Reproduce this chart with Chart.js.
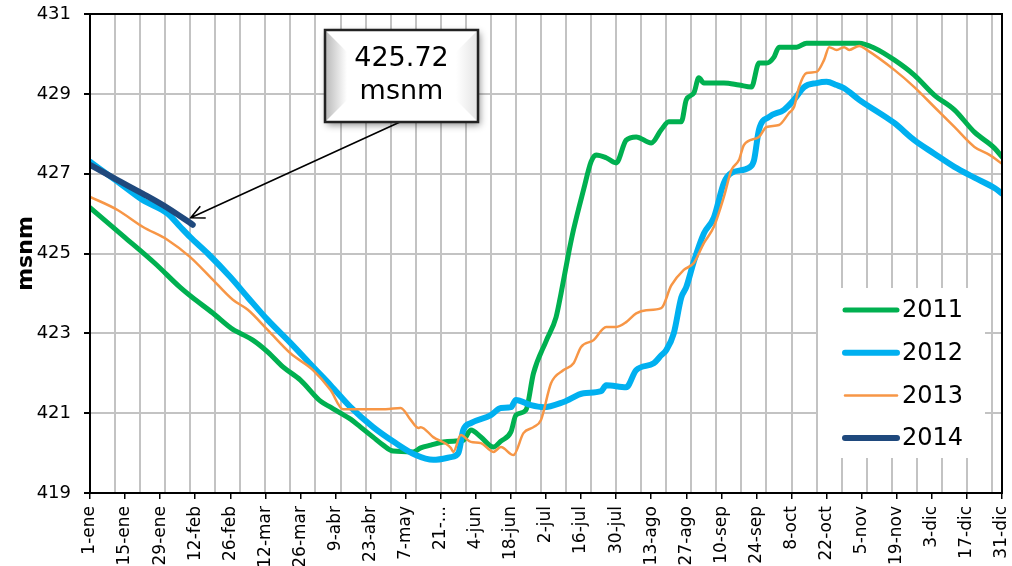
<!DOCTYPE html>
<html lang="es">
<head>
<meta charset="utf-8">
<title>Nivel del embalse (msnm)</title>
<script src="https://cdn.jsdelivr.net/npm/chart.js@4/dist/chart.umd.min.js"></script>
<style>
  html, body { margin: 0; padding: 0; background: #fff; }
  #wrap { width: 1012px; height: 566px; position: relative; }
</style>
</head>
<body>
<div id="wrap"><canvas id="chart"></canvas></div>
<script>
// --- DATOS ---
// eje x: día del año (0 = 1-ene), etiquetas cada 14 días
const tickLabels = ['1-ene', '15-ene', '29-ene', '12-feb', '26-feb', '12-mar', '26-mar', '9-abr', '23-abr',
  '7-may', '21-...', '4-jun', '18-jun', '2-jul', '16-jul', '30-jul', '13-ago', '27-ago', '10-sep', '24-sep',
  '8-oct', '22-oct', '5-nov', '19-nov', '3-dic', '17-dic', '31-dic'];

const seriesNames = ['2011', '2012', '2013', '2014'];

const days2011 = [0, 14, 26, 36, 41, 49, 57, 60, 65, 71, 77, 84, 92, 96, 100, 104, 108, 113, 117, 121, 129,
  132, 136, 141, 146, 149, 152, 156, 161, 164, 168, 170, 174, 177, 182, 186, 188, 191, 193, 197, 200, 202,
  206, 210, 214, 218, 224, 228, 231, 236, 238, 241, 243, 245, 253, 259, 264, 267, 270, 273, 275, 282, 286,
  307, 313, 321, 329, 337, 345, 353, 361, 364];
const level2011 = [426.15, 425.4, 424.75, 424.15, 423.89, 423.51, 423.1, 423.0, 422.83, 422.53, 422.16,
  421.83, 421.3, 421.15, 421.0, 420.85, 420.65, 420.4, 420.2, 420.05, 420.03, 420.13, 420.2, 420.28, 420.3,
  420.32, 420.58, 420.4, 420.15, 420.3, 420.53, 420.95, 421.08, 422.0, 422.8, 423.4, 424.0, 425.0, 425.6,
  426.6, 427.3, 427.47, 427.4, 427.27, 427.84, 427.92, 427.77, 428.1, 428.3, 428.3, 428.85, 429.02, 429.4,
  429.27, 429.27, 429.22, 429.17, 429.77, 429.77, 429.92, 430.17, 430.17, 430.27, 430.27, 430.15, 429.85,
  429.47, 428.97, 428.6, 428.04, 427.64, 427.42];

const days2012 = [0, 11, 21, 31, 36, 40, 47, 56, 63, 71, 80, 89, 96, 104, 113, 122, 130, 137, 144, 147, 149,
  152, 160, 164, 168, 170, 176, 181, 189, 197, 204, 206, 214, 218, 225, 228, 230, 233, 236, 238, 241, 245,
  249, 253, 256, 263, 265, 267, 271, 277, 281, 285, 290, 294, 298, 301, 307, 321, 329, 337, 345, 353, 361, 364];
const level2012 = [427.3, 426.8, 426.34, 426.0, 425.67, 425.41, 425.0, 424.41, 423.9, 423.33, 422.76, 422.16,
  421.7, 421.15, 420.65, 420.25, 419.95, 419.83, 419.9, 420.0, 420.58, 420.75, 420.95, 421.13, 421.15, 421.33,
  421.2, 421.15, 421.28, 421.5, 421.55, 421.7, 421.65, 422.08, 422.25, 422.45, 422.58, 423.0, 423.9, 424.16,
  424.8, 425.5, 425.9, 426.77, 427.02, 427.15, 427.33, 428.1, 428.42, 428.6, 428.85, 429.17, 429.27, 429.3,
  429.22, 429.14, 428.85, 428.27, 427.84, 427.5, 427.17, 426.9, 426.64, 426.5];

const days2013 = [0, 11, 21, 31, 40, 48, 57, 63, 71, 80, 89, 96, 101, 110, 118, 124, 128, 131, 132, 137, 144,
  145, 148, 152, 156, 161, 164, 169, 173, 177, 180, 184, 189, 193, 196, 201, 206, 210, 214, 218, 222, 228,
  232, 237, 241, 245, 249, 253, 256, 259, 261, 267, 270, 275, 279, 281, 283, 286, 290, 293, 295, 298, 301,
  303, 307, 310, 321, 329, 337, 345, 353, 359, 364];
const level2013 = [426.42, 426.09, 425.67, 425.34, 424.91, 424.41, 423.84, 423.59, 423.08, 422.5, 422.08,
  421.58, 421.1, 421.1, 421.1, 421.13, 420.83, 420.63, 420.65, 420.4, 420.13, 420.03, 420.45, 420.28, 420.25,
  420.03, 420.15, 419.95, 420.5, 420.65, 420.83, 421.75, 422.08, 422.25, 422.66, 422.83, 423.16, 423.16,
  423.28, 423.5, 423.58, 423.63, 424.2, 424.59, 424.76, 425.26, 425.67, 426.42, 427.09, 427.34, 427.72,
  427.92, 428.17, 428.22, 428.52, 428.67, 429.17, 429.52, 429.55, 429.85, 430.17, 430.1, 430.17, 430.1,
  430.2, 430.1, 429.6, 429.17, 428.67, 428.17, 427.67, 427.47, 427.25];

const days2014 = [0, 11, 21, 31, 41];
const level2014 = [427.22, 426.84, 426.5, 426.14, 425.72];

// texto del recuadro
const calloutLines = ['425.72', 'msnm'];

const seriesColors = ['#00B050', '#00B0F0', '#F79646', '#1F497D'];
const seriesWidths = [5, 6, 2.5, 6];

const toPoints = (days, levels) => days.map((d, i) => ({ x: d, y: levels[i] }));

// --- PLUGINS ---

// marco negro alrededor del área de trazado
const framePlugin = {
  id: 'frame',
  afterDatasetsDraw: (chart) => {
    const { ctx, chartArea: a } = chart;
    ctx.save();
    ctx.strokeStyle = '#000';
    ctx.lineWidth = 2;
    ctx.strokeRect(a.left, a.top, a.right - a.left, a.bottom - a.top);
    ctx.restore();
  }
};

// leyenda con fondo blanco dentro del área
const legendBoxPlugin = {
  id: 'legendBox',
  afterDraw: (chart) => {
    const { ctx } = chart;
    ctx.save();
    ctx.fillStyle = '#fff';
    ctx.fillRect(818, 288, 167, 170);
    ctx.font = "24px 'DejaVu Sans', sans-serif";
    ctx.textBaseline = 'middle';
    ctx.fillStyle = '#000';
    chart.data.datasets.forEach((ds, i) => {
      const y = 310 + i * 42.7;
      ctx.beginPath();
      ctx.strokeStyle = ds.borderColor;
      ctx.lineWidth = ds.borderWidth;
      ctx.lineCap = 'round';
      ctx.moveTo(845, y);
      ctx.lineTo(897, y);
      ctx.stroke();
      ctx.fillText(ds.label, 902, y + 1);
    });
    ctx.restore();
  }
};

// recuadro con flecha hacia el último dato de 2014
const calloutPlugin = {
  id: 'callout',
  afterDraw: (chart) => {
    const { ctx } = chart;
    const meta = chart.getDatasetMeta(3);
    const last = meta.data[meta.data.length - 1];
    const tipX = last.x - 2;
    const tipY = last.y - 7;
    const bx = 325, by = 30, bw = 153, bh = 92;

    ctx.save();
    // flecha
    const sx = 400, sy = by + bh;
    const ang = Math.atan2(tipY - sy, tipX - sx);
    ctx.strokeStyle = '#000';
    ctx.lineWidth = 1.6;
    ctx.beginPath();
    ctx.moveTo(sx, sy);
    ctx.lineTo(tipX, tipY);
    ctx.moveTo(tipX + 15 * Math.cos(ang - Math.PI + 0.45), tipY + 15 * Math.sin(ang - Math.PI + 0.45));
    ctx.lineTo(tipX, tipY);
    ctx.lineTo(tipX + 15 * Math.cos(ang + Math.PI - 0.45), tipY + 15 * Math.sin(ang + Math.PI - 0.45));
    ctx.stroke();

    // caja con sombra
    ctx.shadowColor = 'rgba(0,0,0,0.45)';
    ctx.shadowBlur = 7;
    ctx.shadowOffsetX = 2;
    ctx.shadowOffsetY = 3;
    ctx.fillStyle = '#fff';
    ctx.fillRect(bx, by, bw, bh);
    ctx.shadowColor = 'transparent';

    // bisel izquierdo
    const g = ctx.createLinearGradient(bx, 0, bx + 22, 0);
    g.addColorStop(0, '#b8b8b8');
    g.addColorStop(1, '#ffffff');
    ctx.fillStyle = g;
    ctx.beginPath();
    ctx.moveTo(bx, by);
    ctx.lineTo(bx + 22, by + 22);
    ctx.lineTo(bx + 22, by + bh - 22);
    ctx.lineTo(bx, by + bh);
    ctx.closePath();
    ctx.fill();
    // bisel derecho, más suave
    const g2 = ctx.createLinearGradient(bx + bw, 0, bx + bw - 22, 0);
    g2.addColorStop(0, '#e4e4e4');
    g2.addColorStop(1, '#ffffff');
    ctx.fillStyle = g2;
    ctx.beginPath();
    ctx.moveTo(bx + bw, by);
    ctx.lineTo(bx + bw - 22, by + 22);
    ctx.lineTo(bx + bw - 22, by + bh - 22);
    ctx.lineTo(bx + bw, by + bh);
    ctx.closePath();
    ctx.fill();

    ctx.strokeStyle = '#222';
    ctx.lineWidth = 2.5;
    ctx.strokeRect(bx, by, bw, bh);

    ctx.fillStyle = '#000';
    ctx.font = "27px 'DejaVu Sans', sans-serif";
    ctx.textAlign = 'center';
    ctx.textBaseline = 'middle';
    ctx.fillText(calloutLines[0], bx + bw / 2, by + 29);
    ctx.fillText(calloutLines[1], bx + bw / 2, by + 62);
    ctx.restore();
  }
};

// --- GRÁFICO ---
Chart.defaults.font.family = "'DejaVu Sans', sans-serif";
Chart.defaults.color = '#000';

const allDays = [days2011, days2012, days2013, days2014];
const allLevels = [level2011, level2012, level2013, level2014];

const datasets = seriesNames.map((name, i) => ({
  label: name,
  data: toPoints(allDays[i], allLevels[i]),
  borderColor: seriesColors[i],
  backgroundColor: seriesColors[i],
  borderWidth: seriesWidths[i],
  pointRadius: 0,
  cubicInterpolationMode: 'monotone',
  borderJoinStyle: 'round',
  borderCapStyle: 'round',
  fill: false,
  order: 3 - i // el último año queda encima
}));

new Chart(document.querySelector('#chart'), {
  type: 'line',
  data: { datasets: datasets },
  options: {
    responsive: true,
    maintainAspectRatio: false,
    animation: false,
    layout: { padding: { left: 0, top: 14, right: 0, bottom: 0 } },
    plugins: {
      legend: { display: false },
      tooltip: { enabled: false }
    },
    scales: {
      x: {
        type: 'linear',
        min: 0,
        max: 364,
        afterFit: (s) => { s.height = 73; s.paddingLeft = 0; s.paddingRight = 10; },
        grid: { drawOnChartArea: false, tickColor: '#000', tickLength: 6, lineWidth: 1.5 },
        border: { color: '#000', width: 2 },
        ticks: {
          stepSize: 14,
          autoSkip: false,
          maxRotation: 90,
          minRotation: 90,
          padding: 7,
          font: { size: 17 },
          callback: (v) => tickLabels[Math.round(v / 14)]
        }
      },
      xg: {
        type: 'linear',
        position: 'top',
        min: 0,
        max: 364,
        afterFit: (s) => { s.height = 0; s.paddingLeft = 0; s.paddingRight = 0; },
        grid: { color: '#c3c3c3', lineWidth: 2, drawTicks: false },
        border: { display: false },
        ticks: { display: false, stepSize: 10, includeBounds: false }
      },
      y: {
        min: 419,
        max: 431,
        afterFit: (s) => { s.width = 90; s.paddingTop = 0; s.paddingBottom = 0; },
        grid: { color: '#c3c3c3', lineWidth: 2, tickColor: '#000', tickLength: 6 },
        border: { color: '#000', width: 2 },
        ticks: { stepSize: 2, padding: 13, font: { size: 18 } },
        title: {
          display: true,
          text: 'msnm',
          font: { size: 22, weight: 'bold' },
          padding: { top: 13, bottom: 0 }
        }
      }
    }
  },
  plugins: [framePlugin, legendBoxPlugin, calloutPlugin]
});
</script>
</body>
</html>
